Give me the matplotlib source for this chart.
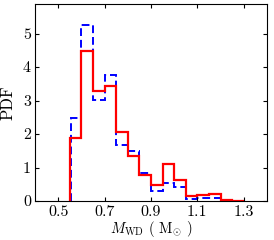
import matplotlib
matplotlib.use("Agg")
import matplotlib.pyplot as plt

plt.rcParams['font.family'] = 'cmr10'
plt.rcParams['mathtext.fontset'] = 'cm'
plt.rcParams['axes.formatter.use_mathtext'] = True

# bin edges (M_WD, solar masses)
edges_red = [0.55, 0.60, 0.65, 0.70, 0.75, 0.80, 0.85, 0.90, 0.95, 1.00,
             1.05, 1.10, 1.15, 1.20, 1.25, 1.30]
pdf_red = [1.88, 4.47, 3.30, 3.43, 2.05, 1.35, 0.78, 0.48, 1.10, 0.62,
           0.15, 0.18, 0.20, 0.04, 0.01]

edges_blue = [0.555, 0.60, 0.65, 0.70, 0.75, 0.80, 0.85, 0.90, 0.95, 1.00,
              1.05, 1.10, 1.15, 1.20, 1.25]
pdf_blue = [2.47, 5.25, 3.03, 3.75, 1.68, 1.48, 0.85, 0.30, 0.53, 0.42,
            0.05, 0.10, 0.08, 0.01]

xticks = [0.5, 0.7, 0.9, 1.1, 1.3]
yticks = [0, 1, 2, 3, 4, 5]

fig = plt.figure(figsize=(2.74, 2.40), dpi=100)
ax = fig.add_axes([0.128, 0.1625, 0.846, 0.82])

ax.stairs(pdf_blue, edges_blue, color='blue', lw=1.4, ls=(0, (4, 2)))
ax.stairs(pdf_red, edges_red, color='red', lw=1.6)

ax.set_xlim(0.4, 1.4)
ax.set_ylim(0, 5.88)
ax.set_xticks(xticks)
ax.set_xticklabels([f"{t:.1f}" for t in xticks])
ax.set_yticks(yticks)
ax.set_yticklabels([str(t) for t in yticks])
ax.tick_params(direction='in', top=True, right=True, labelsize=11.5, length=3,
               pad=3)

ax.set_xlabel(r'$M_{\rm WD}$ ( M$_{\odot}$ )', fontsize=10.5, labelpad=0)
ax.set_ylabel('PDF', fontsize=12, labelpad=5)

fig.savefig('out.png', dpi=100)
